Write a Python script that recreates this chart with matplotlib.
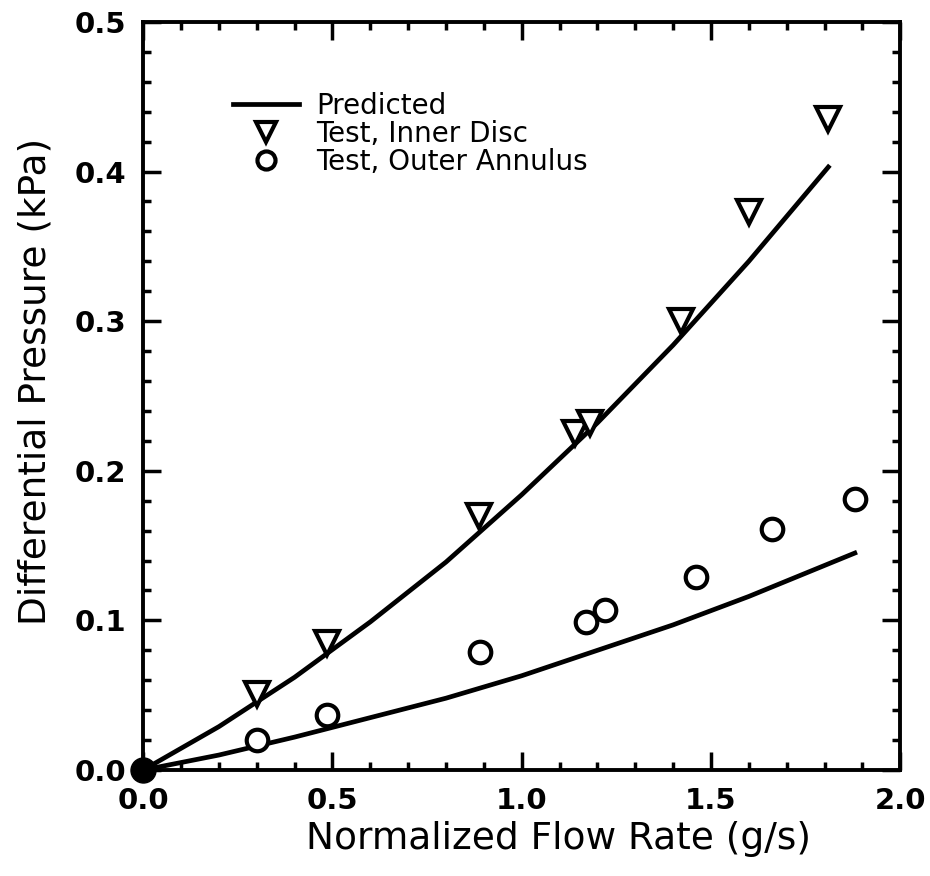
import matplotlib
matplotlib.use("Agg")
from matplotlib import pyplot as plt
from matplotlib.ticker import MultipleLocator
from matplotlib.lines import Line2D

# predicted curves
pred_inner_x = [0.0, 0.2, 0.4, 0.6, 0.8, 1.0, 1.2, 1.4, 1.6, 1.81]
pred_inner_y = [0.0, 0.029, 0.062, 0.099, 0.139, 0.184, 0.232, 0.284, 0.340, 0.403]
pred_outer_x = [0.0, 0.2, 0.4, 0.6, 0.8, 1.0, 1.2, 1.4, 1.6, 1.88]
pred_outer_y = [0.0, 0.010, 0.022, 0.035, 0.048, 0.063, 0.080, 0.097, 0.116, 0.145]

# test data
inner_x = [0.30, 0.485, 0.887, 1.14, 1.18, 1.42, 1.60, 1.81]
inner_y = [0.051, 0.085, 0.170, 0.225, 0.232, 0.300, 0.373, 0.435]
outer_x = [0.30, 0.485, 0.89, 1.17, 1.22, 1.46, 1.66, 1.88]
outer_y = [0.020, 0.037, 0.079, 0.099, 0.107, 0.129, 0.161, 0.181]
origin_x = [0.0]
origin_y = [0.0]

fig = plt.figure(figsize=(9.3, 8.76), dpi=100)
ax = fig.add_axes([0.154, 0.121, 0.814, 0.854])

ax.plot(pred_inner_x, pred_inner_y, color='black', lw=3.4)
ax.plot(pred_outer_x, pred_outer_y, color='black', lw=3.4)
ax.plot(inner_x, inner_y, linestyle='none', marker='v', ms=17, mfc='white', mec='black', mew=3)
ax.plot(outer_x, outer_y, linestyle='none', marker='o', ms=15.5, mfc='white', mec='black', mew=3)
ax.plot(origin_x, origin_y, linestyle='none', marker='o', ms=18, color='black', clip_on=False, zorder=5)

ax.set_xlim(0, 2.0)
ax.set_ylim(0, 0.5)
ax.xaxis.set_major_locator(MultipleLocator(0.5))
ax.xaxis.set_minor_locator(MultipleLocator(0.1))
ax.yaxis.set_major_locator(MultipleLocator(0.1))
ax.yaxis.set_minor_locator(MultipleLocator(0.02))
ax.xaxis.set_major_formatter(lambda v, p: f"{v:.1f}")
ax.yaxis.set_major_formatter(lambda v, p: f"{v:.1f}")

ax.tick_params(which='both', direction='in', top=True, right=True, width=2.5)
ax.tick_params(which='major', length=13, labelsize=21, pad=12)
ax.tick_params(which='minor', length=6)
for lab in ax.get_xticklabels() + ax.get_yticklabels():
    lab.set_fontweight('bold')
for s in ax.spines.values():
    s.set_linewidth(2.8)

ax.set_xlabel('Normalized Flow Rate (g/s)', fontsize=27)
ax.set_ylabel('Differential Pressure (kPa)', fontsize=27)
ax.xaxis.set_label_coords(0.548, -0.068)
ax.yaxis.set_label_coords(-0.118, 0.519)

handles = [
    Line2D([], [], color='black', lw=3.4),
    Line2D([], [], linestyle='none', marker='v', ms=14, mfc='white', mec='black', mew=3),
    Line2D([], [], linestyle='none', marker='o', ms=13, mfc='white', mec='black', mew=3),
]
ax.legend(handles, ['Predicted', 'Test, Inner Disc', 'Test, Outer Annulus'],
          loc='upper left', bbox_to_anchor=(0.085, 0.94), frameon=False,
          fontsize=20, handlelength=2.4, labelspacing=0.0, handletextpad=0.6)

plt.savefig('out.png', dpi=100)
